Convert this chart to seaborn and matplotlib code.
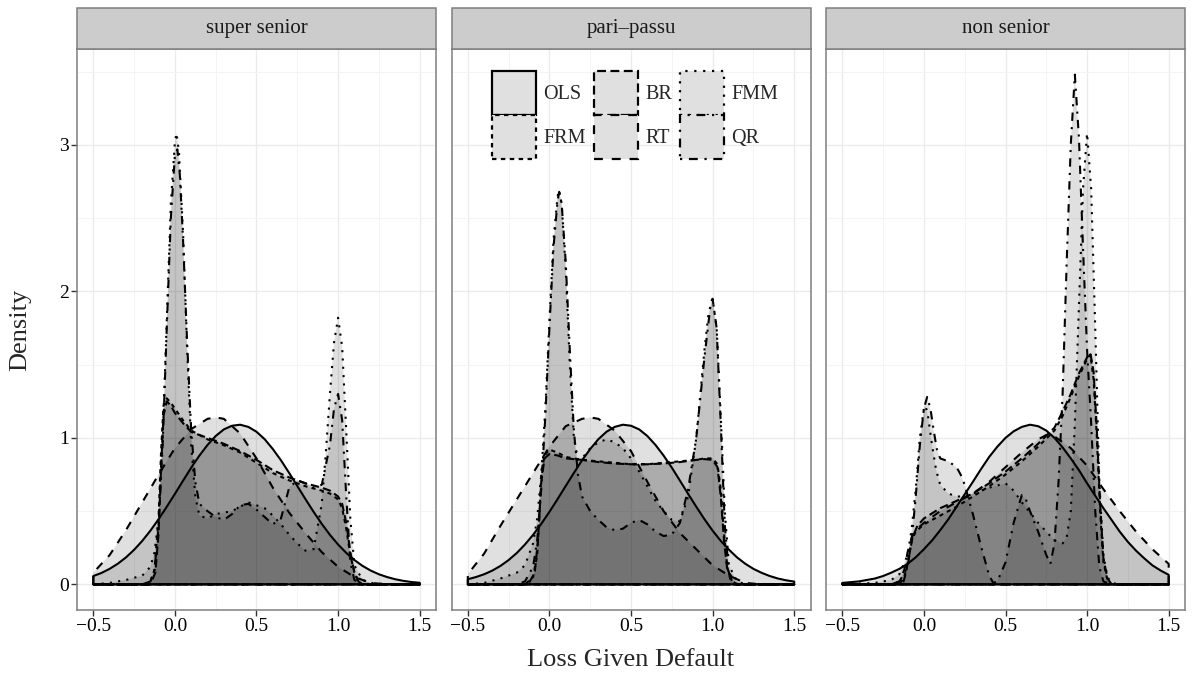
import matplotlib
matplotlib.use("Agg")
import matplotlib.pyplot as plt
from matplotlib.patches import Patch, Rectangle
import pandas as pd
import seaborn as sns

# ---------------- data ----------------
PANELS = ["super senior", "pari\u2013passu", "non senior"]
MODELS = ["OLS", "FRM", "BR", "RT", "FMM", "QR"]
X_TICKS = [-0.5, 0.0, 0.5, 1.0, 1.5]
X_TICK_LABELS = ["\u22120.5", "0.0", "0.5", "1.0", "1.5"]
Y_TICKS = [0, 1, 2, 3]

GRID05 = [-0.5, -0.45, -0.4, -0.35, -0.3, -0.25, -0.2, -0.15, -0.1, -0.05, 0.0,
          0.05, 0.1, 0.15, 0.2, 0.25, 0.3, 0.35, 0.4, 0.45, 0.5,
          0.55, 0.6, 0.65, 0.7, 0.75, 0.8, 0.85, 0.9, 0.95, 1.0,
          1.05, 1.1, 1.15, 1.2, 1.25, 1.3, 1.35, 1.4, 1.45, 1.5]

# ---- super senior ----
SS_OLS = list(zip(GRID05, [0.057, 0.078, 0.106, 0.141, 0.184, 0.236, 0.297, 0.367, 0.445, 0.53, 0.618,
                           0.708, 0.797, 0.879, 0.952, 1.013, 1.058, 1.083, 1.09, 1.075, 1.042,
                           0.991, 0.924, 0.847, 0.761, 0.672, 0.582, 0.495, 0.413, 0.338, 0.272,
                           0.215, 0.166, 0.126, 0.094, 0.069, 0.05, 0.035, 0.024, 0.016, 0.011]))
SS_RT = [(-0.5, 0.08), (-0.4, 0.2), (-0.3, 0.37), (-0.2, 0.56), (-0.1, 0.75), (0.0, 0.93),
         (0.1, 1.06), (0.2, 1.13), (0.25, 1.14), (0.3, 1.13), (0.4, 1.03), (0.5, 0.86),
         (0.6, 0.66), (0.7, 0.49), (0.8, 0.35), (0.9, 0.22), (1.0, 0.12), (1.1, 0.05),
         (1.2, 0.01), (1.3, 0.0), (1.5, 0.0)]
SS_FRM = [(-0.5, 0.0), (-0.2, 0.0), (-0.15, 0.02), (-0.125, 0.1), (-0.1, 0.45), (-0.085, 0.9),
          (-0.07, 1.22), (-0.05, 1.27), (-0.025, 1.24), (0.0, 1.2), (0.05, 1.12), (0.1, 1.05),
          (0.2, 0.99), (0.3, 0.95), (0.4, 0.9), (0.5, 0.83), (0.6, 0.76), (0.7, 0.71),
          (0.8, 0.67), (0.9, 0.64), (0.95, 0.62), (1.0, 0.58), (1.025, 0.52), (1.05, 0.38),
          (1.075, 0.2), (1.1, 0.08), (1.125, 0.02), (1.15, 0.0), (1.5, 0.0)]
SS_BR = [(-0.5, 0.0), (-0.15, 0.0), (-0.12, 0.08), (-0.1, 0.35), (-0.085, 0.8), (-0.07, 1.15),
         (-0.05, 1.25), (-0.025, 1.22), (0.0, 1.17), (0.05, 1.1), (0.1, 1.04), (0.2, 1.0),
         (0.3, 0.96), (0.4, 0.91), (0.5, 0.85), (0.6, 0.78), (0.7, 0.73), (0.8, 0.69),
         (0.9, 0.66), (0.95, 0.64), (1.0, 0.6), (1.025, 0.55), (1.05, 0.42), (1.075, 0.22),
         (1.1, 0.08), (1.125, 0.02), (1.15, 0.0), (1.5, 0.0)]
SS_FMM = [(-0.5, 0.0), (-0.4, 0.01), (-0.3, 0.03), (-0.2, 0.06), (-0.15, 0.12), (-0.125, 0.22),
          (-0.1, 0.45), (-0.075, 1.0), (-0.05, 1.8), (-0.025, 2.6), (0.0, 3.02), (0.01, 3.08),
          (0.025, 2.95), (0.05, 2.4), (0.075, 1.6), (0.1, 0.95), (0.125, 0.6), (0.15, 0.47),
          (0.2, 0.45), (0.25, 0.48), (0.3, 0.49), (0.35, 0.5), (0.4, 0.53), (0.45, 0.56),
          (0.5, 0.54), (0.55, 0.52), (0.6, 0.47), (0.65, 0.41), (0.7, 0.34), (0.75, 0.28),
          (0.8, 0.23), (0.85, 0.24), (0.9, 0.55), (0.925, 0.9), (0.95, 1.3), (0.975, 1.65),
          (1.0, 1.82), (1.025, 1.62), (1.05, 1.05), (1.075, 0.45), (1.1, 0.13), (1.15, 0.03),
          (1.2, 0.01), (1.3, 0.0), (1.5, 0.0)]
SS_QR = [(-0.5, 0.0), (-0.2, 0.0), (-0.15, 0.02), (-0.125, 0.1), (-0.1, 0.4), (-0.075, 0.95),
         (-0.05, 1.75), (-0.025, 2.5), (0.0, 2.93), (0.015, 2.97), (0.03, 2.8), (0.05, 2.35),
         (0.075, 1.65), (0.1, 1.05), (0.125, 0.7), (0.15, 0.55), (0.2, 0.5), (0.25, 0.46),
         (0.3, 0.44), (0.35, 0.48), (0.4, 0.54), (0.45, 0.55), (0.5, 0.51), (0.55, 0.46),
         (0.6, 0.41), (0.65, 0.45), (0.7, 0.66), (0.75, 0.71), (0.8, 0.69), (0.85, 0.66),
         (0.9, 0.68), (0.95, 0.95), (0.975, 1.2), (1.0, 1.3), (1.025, 1.12), (1.05, 0.6),
         (1.075, 0.15), (1.1, 0.03), (1.15, 0.0), (1.5, 0.0)]

# ---- pari-passu ----
PP_OLS = list(zip(GRID05, [0.035, 0.05, 0.069, 0.094, 0.126, 0.166, 0.214, 0.272, 0.338, 0.413, 0.495,
                           0.582, 0.672, 0.761, 0.847, 0.924, 0.991, 1.042, 1.075, 1.09, 1.083,
                           1.058, 1.013, 0.952, 0.879, 0.797, 0.708, 0.618, 0.53, 0.445, 0.367,
                           0.297, 0.237, 0.184, 0.141, 0.106, 0.079, 0.057, 0.04, 0.028, 0.019]))
PP_RT = [(-0.5, 0.07), (-0.4, 0.21), (-0.3, 0.4), (-0.2, 0.58), (-0.1, 0.76), (0.0, 0.94),
         (0.1, 1.08), (0.2, 1.13), (0.25, 1.14), (0.3, 1.13), (0.4, 1.05), (0.5, 0.91),
         (0.6, 0.7), (0.7, 0.5), (0.8, 0.35), (0.9, 0.24), (1.0, 0.13), (1.1, 0.06),
         (1.2, 0.01), (1.3, 0.0), (1.5, 0.0)]
PP_FRM = [(-0.5, 0.0), (-0.15, 0.0), (-0.1, 0.05), (-0.075, 0.2), (-0.06, 0.5), (-0.05, 0.75),
          (-0.03, 0.88), (0.0, 0.92), (0.05, 0.9), (0.1, 0.87), (0.2, 0.85), (0.3, 0.84),
          (0.4, 0.83), (0.5, 0.82), (0.6, 0.82), (0.7, 0.83), (0.8, 0.84), (0.9, 0.85),
          (0.95, 0.86), (1.0, 0.86), (1.03, 0.82), (1.05, 0.65), (1.07, 0.35), (1.09, 0.12),
          (1.11, 0.03), (1.15, 0.0), (1.5, 0.0)]
PP_BR = [(-0.5, 0.0), (-0.13, 0.0), (-0.09, 0.08), (-0.07, 0.3), (-0.05, 0.7), (-0.03, 0.86),
         (0.0, 0.89), (0.05, 0.88), (0.1, 0.86), (0.2, 0.85), (0.3, 0.835), (0.4, 0.825),
         (0.5, 0.82), (0.6, 0.82), (0.7, 0.825), (0.8, 0.835), (0.9, 0.85), (0.95, 0.855),
         (1.0, 0.85), (1.03, 0.8), (1.05, 0.6), (1.07, 0.3), (1.09, 0.1), (1.12, 0.02),
         (1.15, 0.0), (1.5, 0.0)]
PP_FMM = [(-0.5, 0.0), (-0.4, 0.01), (-0.3, 0.04), (-0.2, 0.08), (-0.15, 0.13), (-0.1, 0.28),
          (-0.075, 0.45), (-0.05, 0.75), (-0.025, 1.2), (0.0, 1.8), (0.025, 2.35), (0.05, 2.65),
          (0.06, 2.69), (0.075, 2.6), (0.1, 2.15), (0.125, 1.5), (0.15, 1.0), (0.175, 0.85),
          (0.2, 0.86), (0.25, 0.93), (0.3, 0.97), (0.35, 0.99), (0.4, 0.97), (0.45, 0.93),
          (0.5, 0.86), (0.55, 0.77), (0.6, 0.67), (0.65, 0.57), (0.7, 0.5), (0.75, 0.44),
          (0.8, 0.43), (0.85, 0.6), (0.9, 1.0), (0.95, 1.6), (0.975, 1.85), (1.0, 1.95),
          (1.025, 1.75), (1.05, 1.15), (1.075, 0.5), (1.1, 0.13), (1.15, 0.02), (1.2, 0.0),
          (1.5, 0.0)]
PP_QR = [(-0.5, 0.0), (-0.2, 0.0), (-0.15, 0.02), (-0.1, 0.12), (-0.075, 0.3), (-0.05, 0.65),
         (-0.025, 1.15), (0.0, 1.75), (0.025, 2.3), (0.05, 2.62), (0.06, 2.68), (0.075, 2.6),
         (0.1, 2.2), (0.125, 1.6), (0.15, 1.05), (0.175, 0.75), (0.2, 0.6), (0.25, 0.5),
         (0.3, 0.44), (0.35, 0.39), (0.4, 0.37), (0.45, 0.38), (0.5, 0.42), (0.55, 0.44),
         (0.6, 0.41), (0.65, 0.36), (0.7, 0.33), (0.75, 0.34), (0.8, 0.42), (0.85, 0.65),
         (0.9, 1.0), (0.95, 1.55), (0.99, 1.93), (1.0, 1.95), (1.025, 1.75), (1.05, 1.1),
         (1.075, 0.4), (1.1, 0.08), (1.15, 0.0), (1.5, 0.0)]

# ---- non senior ----
NS_OLS = list(zip(GRID05, [0.01, 0.015, 0.02, 0.03, 0.04, 0.057, 0.08, 0.106, 0.14, 0.185, 0.24,
                           0.30, 0.37, 0.445, 0.53, 0.615, 0.70, 0.787, 0.87, 0.94, 1.0,
                           1.045, 1.075, 1.09, 1.08, 1.05, 1.0, 0.935, 0.86, 0.78, 0.69,
                           0.605, 0.52, 0.44, 0.36, 0.29, 0.23, 0.178, 0.13, 0.095, 0.065]))
NS_RT = [(-0.5, 0.0), (-0.2, 0.0), (-0.15, 0.02), (-0.12, 0.1), (-0.1, 0.22), (-0.075, 0.32),
         (-0.05, 0.37), (0.0, 0.42), (0.1, 0.5), (0.2, 0.56), (0.3, 0.62), (0.4, 0.7),
         (0.5, 0.8), (0.6, 0.9), (0.7, 0.99), (0.75, 1.02), (0.8, 1.01), (0.9, 0.93),
         (1.0, 0.81), (1.1, 0.65), (1.2, 0.5), (1.3, 0.36), (1.4, 0.24), (1.5, 0.14)]
NS_FRM = [(-0.5, 0.0), (-0.15, 0.0), (-0.12, 0.05), (-0.1, 0.15), (-0.075, 0.3), (-0.05, 0.36),
          (0.0, 0.41), (0.1, 0.47), (0.2, 0.53), (0.3, 0.6), (0.4, 0.67), (0.5, 0.75),
          (0.6, 0.84), (0.7, 0.94), (0.8, 1.05), (0.85, 1.15), (0.9, 1.28), (0.95, 1.42),
          (1.0, 1.54), (1.02, 1.57), (1.04, 1.4), (1.06, 1.0), (1.08, 0.5), (1.1, 0.15),
          (1.125, 0.03), (1.15, 0.0), (1.5, 0.0)]
NS_BR = [(-0.5, 0.0), (-0.13, 0.0), (-0.11, 0.08), (-0.09, 0.2), (-0.07, 0.32), (-0.04, 0.4),
         (0.0, 0.45), (0.1, 0.52), (0.2, 0.57), (0.3, 0.62), (0.4, 0.69), (0.5, 0.77),
         (0.6, 0.86), (0.7, 0.96), (0.8, 1.07), (0.85, 1.18), (0.9, 1.3), (0.95, 1.44),
         (1.0, 1.55), (1.02, 1.58), (1.04, 1.45), (1.06, 1.05), (1.08, 0.55), (1.1, 0.18),
         (1.125, 0.04), (1.15, 0.0), (1.5, 0.0)]
NS_FMM = [(-0.5, 0.0), (-0.3, 0.01), (-0.2, 0.03), (-0.15, 0.07), (-0.1, 0.2), (-0.075, 0.38),
          (-0.05, 0.65), (-0.025, 1.0), (0.0, 1.2), (0.01, 1.22), (0.025, 1.15), (0.05, 0.95),
          (0.075, 0.78), (0.1, 0.68), (0.15, 0.62), (0.2, 0.6), (0.25, 0.6), (0.3, 0.62),
          (0.4, 0.66), (0.5, 0.69), (0.55, 0.64), (0.6, 0.56), (0.65, 0.49), (0.7, 0.42),
          (0.75, 0.36), (0.8, 0.3), (0.85, 0.28), (0.875, 0.32), (0.9, 0.5), (0.925, 1.1),
          (0.95, 1.9), (0.975, 2.7), (1.0, 3.08), (1.025, 2.7), (1.05, 1.75), (1.075, 0.7),
          (1.1, 0.2), (1.125, 0.05), (1.15, 0.01), (1.2, 0.0), (1.5, 0.0)]
NS_QR = [(-0.5, 0.0), (-0.2, 0.0), (-0.15, 0.02), (-0.1, 0.12), (-0.075, 0.3), (-0.05, 0.6),
         (-0.025, 0.95), (0.0, 1.2), (0.02, 1.28), (0.04, 1.2), (0.06, 1.05), (0.08, 0.92),
         (0.1, 0.86), (0.15, 0.84), (0.2, 0.8), (0.225, 0.75), (0.25, 0.68), (0.3, 0.48),
         (0.35, 0.26), (0.4, 0.06), (0.425, 0.01), (0.45, 0.02), (0.5, 0.15), (0.55, 0.42),
         (0.6, 0.61), (0.625, 0.58), (0.65, 0.5), (0.7, 0.36), (0.75, 0.2), (0.775, 0.14),
         (0.8, 0.28), (0.825, 0.7), (0.85, 1.3), (0.875, 2.2), (0.9, 3.0), (0.925, 3.48),
         (0.95, 3.05), (0.975, 2.3), (1.0, 1.6), (1.025, 1.1), (1.05, 0.5), (1.075, 0.12),
         (1.1, 0.02), (1.15, 0.0), (1.5, 0.0)]

CURVES = {
    PANELS[0]: {"OLS": SS_OLS, "FRM": SS_FRM, "BR": SS_BR, "RT": SS_RT, "FMM": SS_FMM, "QR": SS_QR},
    PANELS[1]: {"OLS": PP_OLS, "FRM": PP_FRM, "BR": PP_BR, "RT": PP_RT, "FMM": PP_FMM, "QR": PP_QR},
    PANELS[2]: {"OLS": NS_OLS, "FRM": NS_FRM, "BR": NS_BR, "RT": NS_RT, "FMM": NS_FMM, "QR": NS_QR},
}

# ---------------- styling ----------------
DASHES = {"OLS": "", "FRM": (2, 2), "BR": (4, 2), "RT": (4, 4), "FMM": (1, 3), "QR": (1, 3, 4, 3)}
MPL_LS = {"OLS": "-", "FRM": (0, (2, 2)), "BR": (0, (4, 2)), "RT": (0, (4, 4)),
          "FMM": (0, (1, 3)), "QR": (0, (1, 3, 4, 3))}

sns.set_style("white")
plt.rcParams["font.family"] = ["Liberation Serif", "DejaVu Serif"]
plt.rcParams["axes.unicode_minus"] = True

# long-format table of closed density polygons (curve + baseline)
rows = []
for panel in PANELS:
    for m in MODELS:
        pts = CURVES[panel][m]
        xs = [p[0] for p in pts]
        ys = [p[1] for p in pts]
        poly_x = [xs[0]] + xs + [xs[-1], xs[0]]
        poly_y = [0.0] + ys + [0.0, 0.0]
        for k, (xx, yy) in enumerate(zip(poly_x, poly_y)):
            rows.append({"panel": panel, "model": m, "step": k, "x": xx, "y": yy})
df = pd.DataFrame(rows)

FIG_W, FIG_H = 1192, 686
fig = plt.figure(figsize=(FIG_W / 100, FIG_H / 100), dpi=100)

LEFTS = [77, 451.5, 826]
PW = 359
TOP, BOT = 49, 610
PH = BOT - TOP
STRIP_H = 41

axes = []
for i, panel in enumerate(PANELS):
    ax = fig.add_axes([LEFTS[i] / FIG_W, 1 - BOT / FIG_H, PW / FIG_W, PH / FIG_H])
    axes.append(ax)
    sub = df[df.panel == panel]
    for m in MODELS:
        s = sub[sub.model == m]
        ax.fill(s.x.values, s.y.values, facecolor="black", alpha=0.12, lw=0, zorder=2)
    sns.lineplot(data=sub, x="x", y="y", style="model", style_order=MODELS,
                 dashes=DASHES, color="black", sort=False, estimator=None,
                 lw=1.5, legend=False, ax=ax, zorder=3)

    ax.set_xlim(-0.6, 1.6)
    ax.set_ylim(-0.175, 3.655)
    ax.set_xticks(X_TICKS)
    ax.set_xticklabels(X_TICK_LABELS)
    ax.set_xticks([-0.25, 0.25, 0.75, 1.25], minor=True)
    ax.set_yticks(Y_TICKS)
    ax.set_yticks([0.5, 1.5, 2.5, 3.5], minor=True)
    ax.set_axisbelow(True)
    ax.grid(which="major", color="#ebebeb", lw=1.0, zorder=0)
    ax.grid(which="minor", color="#f4f4f4", lw=0.7, zorder=0)
    ax.tick_params(which="minor", length=0)
    ax.tick_params(which="major", direction="out", length=4, width=1.0, color="#333333",
                   labelsize=14, pad=2, labelcolor="black")
    ax.tick_params(axis="x", bottom=True)
    if i == 0:
        ax.tick_params(axis="y", left=True)
    else:
        ax.tick_params(axis="y", left=False, labelleft=False)
    ax.set_xlabel("")
    ax.set_ylabel("")
    for sp in ax.spines.values():
        sp.set_color("#7f7f7f")
        sp.set_linewidth(1.1)
        sp.set_zorder(5)

    ax.add_patch(Rectangle((0, 1), 1, STRIP_H / PH, transform=ax.transAxes,
                           facecolor="#cccccc", edgecolor="#7f7f7f", lw=1.1,
                           clip_on=False, zorder=6))
    ax.text(0.5, 1 + STRIP_H / PH / 2, panel, transform=ax.transAxes, ha="center",
            va="center", fontsize=15, color="#1a1a1a", zorder=7)

# legend inside the middle panel
handles = [Patch(facecolor="#e0e0e0", edgecolor="black", linestyle=MPL_LS[m], lw=1.6, label=m)
           for m in MODELS]
leg = axes[1].legend(handles=handles, labels=MODELS, ncol=3, loc="upper center",
                     bbox_to_anchor=(0.511, 1 - 22 / PH), frameon=False, fontsize=14.5,
                     handlelength=2.2, handleheight=3.0, labelspacing=0.0,
                     columnspacing=0.4, handletextpad=0.35, borderpad=0.0, borderaxespad=0.0)

fig.text((LEFTS[0] + LEFTS[2] + PW) / 2 / FIG_W, 1 - 660 / FIG_H, "Loss Given Default",
         ha="center", va="center", fontsize=19)
fig.text(20 / FIG_W, 1 - (TOP + BOT) / 2 / FIG_H, "Density", ha="center", va="center",
         rotation=90, fontsize=19)

fig.savefig("out.png", dpi=100)
